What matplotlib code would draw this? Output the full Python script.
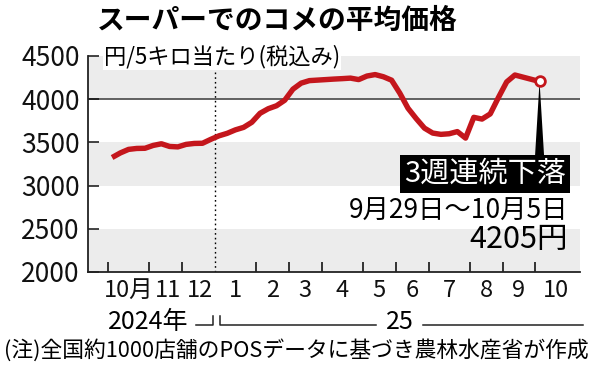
import matplotlib
matplotlib.use("Agg")
import matplotlib.pyplot as plt
import numpy as np
from matplotlib.lines import Line2D

plt.rcParams["font.family"] = ["Noto Sans CJK JP", "DejaVu Sans"]

# ------------------------------------------------------------
# Daten: Wochenpreise (Yen / 5 kg), Woche 0 = 30.9.2024, letzte = 29.9.-5.10.2025
# ------------------------------------------------------------
price = [
    3325, 3378, 3419, 3430, 3432, 3465, 3484, 3453, 3448, 3477,
    3488, 3490, 3535, 3576, 3605, 3645, 3674, 3733, 3837, 3890,
    3924, 3988, 4116, 4186, 4215, 4221, 4227, 4233, 4238, 4244,
    4227, 4268, 4285, 4260, 4220, 4070, 3895, 3775, 3665, 3608,
    3593, 3600, 3625, 3550, 3790, 3770, 3830, 4020, 4200, 4280,
    4255, 4230, 4205,
]
weeks = np.arange(len(price))

# Monatsgrenzen (in Wochen) und Monatsmitten fuer die Beschriftung
month_bounds = [-0.5, 4.5, 8.5, 17.5, 21.5, 25.5, 30.5, 34.5, 38.5, 43.5, 47.5, 51.5]
year_break = 12.5
month_centers = [2, 6.8, 10.7, 15, 19.5, 23.5, 28, 32.5, 36.5, 41, 45.5, 49.5, 54]
month_labels = ["10月", "11", "12", "1", "2", "3", "4", "5", "6", "7", "8", "9", "10"]

yticks = [2000, 2500, 3000, 3500, 4000, 4500]
bands = [(2000, 2500), (3000, 3500), (4000, 4500)]

RED = "#c4161c"
W, H = 600, 365


def fx(px):
    return px / W


def fy(py):
    return 1 - py / H


fig = plt.figure(figsize=(6, 3.65), dpi=100)
ax = fig.add_axes([fx(88), fy(272), fx(580) - fx(88), fy(56) - fy(272)])

for lo, hi in bands:
    ax.axhspan(lo, hi, color="#ececec", lw=0, zorder=0)
ax.axhline(4000, color="#555555", lw=1.3, zorder=1)
ax.axvline(year_break, color="black", lw=1.0, ls=(0, (1.2, 2.2)), zorder=1)

ax.plot(weeks, price, color=RED, lw=3.9, solid_capstyle="butt",
        solid_joinstyle="round", zorder=3)

# Zeiger vom letzten Punkt zur Box
xl, yl = weeks[-1], price[-1]
ax.fill([xl, xl - 0.55, xl + 0.55], [yl, 3345, 3345], color="black",
        lw=0, zorder=2, clip_on=False)
ax.plot([xl], [yl], marker="o", ms=7, mfc="white", mec=RED, mew=2, zorder=4)

ax.set_xlim(-2.93, 56.92)
ax.set_ylim(2000, 4500)

for s in ["top", "right"]:
    ax.spines[s].set_visible(False)
for s in ["left", "bottom"]:
    ax.spines[s].set_linewidth(1.3)
    ax.spines[s].set_color("#222222")

ax.set_yticks(yticks)
ax.set_yticklabels([str(v) for v in yticks])
ax.tick_params(axis="y", direction="in", length=8, width=1.1, pad=6,
               labelsize=19, colors="#111111")

ax.set_xticks(month_bounds)
ax.set_xticklabels([])
ax.tick_params(axis="x", which="major", direction="in", length=7, width=1.1)
ax.set_xticks(month_centers, minor=True)
ax.set_xticklabels(month_labels, minor=True)
ax.tick_params(axis="x", which="minor", length=0, pad=5, labelsize=17,
               colors="#111111")

# Titel
fig.text(fx(97), fy(21), "スーパーでのコメの平均価格", fontsize=20,
         fontweight="bold", va="center", ha="left")
fig.text(fx(104), fy(57), "円/5キロ当たり(税込み)", fontsize=16,
         va="center", ha="left",
         bbox=dict(facecolor="white", edgecolor="none", pad=1))

# Anmerkung
fig.text(fx(566), fy(174), "3週連続下落", fontsize=21, color="white",
         va="center", ha="right",
         bbox=dict(facecolor="black", edgecolor="none", pad=3))
fig.text(fx(568), fy(211), "9月29日～10月5日", fontsize=19,
         va="center", ha="right")
fig.text(fx(568), fy(240), "4205円", fontsize=22,
         va="center", ha="right")

# Jahreszeile
fig.text(fx(108), fy(322), "2024年", fontsize=18, va="center", ha="left")
fig.text(fx(400), fy(322), "25", fontsize=18, va="center", ha="center")
yl_px = 325
for xs, ys in [
    ([196, 213, 213], [yl_px, yl_px, 316]),
    ([220, 220, 376], [316, yl_px, yl_px]),
    ([423, 583], [yl_px, yl_px]),
]:
    fig.add_artist(Line2D([fx(v) for v in xs], [fy(v) for v in ys],
                          color="#222222", lw=1.1))

fig.text(fx(4), fy(350), "(注)全国約1000店舗のPOSデータに基づき農林水産省が作成",
         fontsize=15.7, va="center", ha="left")

fig.savefig("out.png", dpi=100)
